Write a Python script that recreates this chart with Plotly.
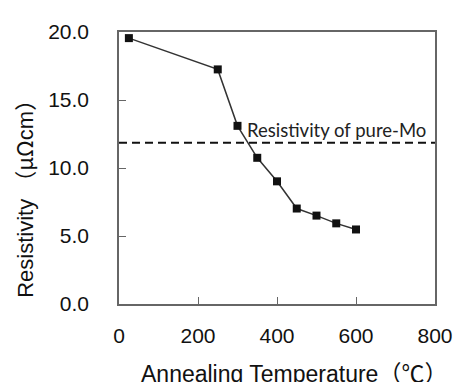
import plotly.graph_objects as go

temperature = [25, 250, 300, 350, 400, 450, 500, 550, 600]
resistivity = [19.55, 17.25, 13.1, 10.75, 9.02, 7.02, 6.5, 5.93, 5.48]
pure_mo = 11.85
x_ticks = [0, 200, 400, 600, 800]
y_ticks = [0, 5, 10, 15, 20]
y_ticklabels = ["0.0", "5.0", "10.0", "15.0", "20.0"]

W, H = 465, 382
OFF = 8  # default body margin of the html page
L, R, T, B = 119, 21, 22, 78

fig = go.Figure()
fig.add_trace(go.Scatter(
    x=temperature, y=resistivity, mode="lines+markers",
    line=dict(color="#333333", width=1.5),
    marker=dict(symbol="square", size=8, color="#111111"),
    showlegend=False, cliponaxis=False))
fig.add_trace(go.Scatter(
    x=[0, 800], y=[pure_mo, pure_mo], mode="lines",
    line=dict(color="#111111", width=2, dash="8px,5px"),
    showlegend=False, cliponaxis=False))

font_main = "Liberation Sans, Arial, Noto Sans CJK JP, sans-serif"
cjk = "font-family:'Noto Sans CJK JP'"
fw, fh = W - OFF, H - OFF
fig.update_layout(
    width=fw, height=fh,
    margin=dict(l=L - OFF, r=R, t=T - OFF, b=B),
    paper_bgcolor="white", plot_bgcolor="white",
    font=dict(family=font_main, color="#111111", size=21),
    xaxis=dict(range=[0, 800], tickvals=x_ticks, ticks="inside", ticklen=7,
               tickcolor="#666666", showline=True, linecolor="#666666", linewidth=1.5,
               mirror=True, showgrid=False, zeroline=False, ticklabelstandoff=12,
               tickfont=dict(size=21)),
    yaxis=dict(range=[0, 20], tickvals=y_ticks, ticktext=y_ticklabels, ticks="inside",
               ticklen=7, tickcolor="#666666", showline=True, linecolor="#666666",
               linewidth=1.5, mirror=True, showgrid=False, zeroline=False,
               ticklabelstandoff=24, tickfont=dict(size=21)),
    annotations=[
        dict(text="Resistivity of pure-Mo", x=800, y=pure_mo, xref="x", yref="y",
             xanchor="right", yanchor="bottom", showarrow=False, xshift=-7, yshift=0,
             font=dict(family="Lato, Open Sans, sans-serif", size=18.5, color="#222222")),
        dict(text=f"Annealing Temperature<span style=\"{cjk}\">（℃）</span>",
             x=299, y=375, xref="paper", yref="paper",
             showarrow=False, xanchor="center", yanchor="middle",
             font=dict(size=23)),
        dict(text=f"Resistivity <span style=\"{cjk}\">（μΩ</span>cm<span style=\"{cjk}\">）</span>",
             x=20, y=189, xref="paper", yref="paper",
             showarrow=False, xanchor="center", yanchor="middle", textangle=-90,
             font=dict(size=22)),
    ],
)
# convert window pixel positions to paper coordinates
pw = fw - (L - OFF) - R
ph = fh - (T - OFF) - B
for a in fig.layout.annotations[1:]:
    a.x = (a.x - L) / pw
    a.y = (H - a.y - B) / ph
fig.write_html("out.html")
